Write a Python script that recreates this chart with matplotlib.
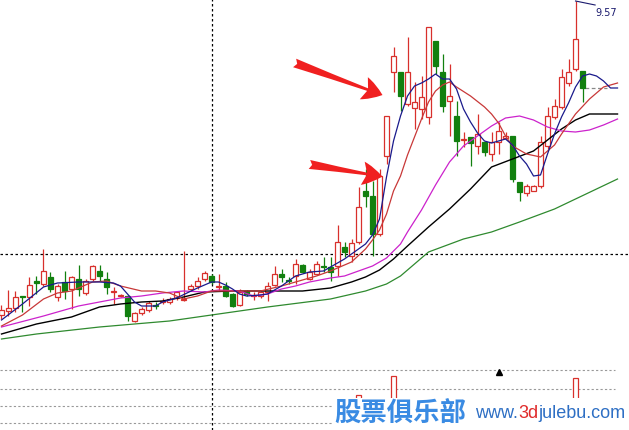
import matplotlib
matplotlib.use("Agg")
import matplotlib.pyplot as plt
from matplotlib.patches import FancyArrowPatch, Rectangle

###############################################################################
# Data (daily candles, prices)
###############################################################################
OPEN = [6.43, 6.47, 6.50, 6.62, 6.61, 6.77, 6.74, 6.81, 6.61, 6.76,
        6.69, 6.79, 6.65, 6.79, 6.87, 6.79, 6.66, 6.62, 6.62, 6.37,
        6.45, 6.48, 6.53, 6.56, 6.56, 6.60, 6.58, 6.69, 6.72, 6.79,
        6.82, 6.71, 6.72, 6.64, 6.53, 6.67, 6.62, 6.62, 6.66, 6.73,
        6.84, 6.78, 6.82, 6.93, 6.79, 6.84, 6.92, 6.91, 6.92, 7.11,
        7.02, 7.16, 7.67, 7.62, 7.24, 8.02, 8.86, 8.86, 8.54, 8.50,
        8.49, 8.41, 9.17, 8.86, 8.57, 8.42, 8.18, 8.21, 8.12, 8.16,
        8.04, 8.16, 8.20, 8.22, 7.76, 7.65, 7.67, 7.72, 8.12, 8.41,
        8.51, 8.75, 8.89, 8.87]
CLOSE = [6.48, 6.50, 6.61, 6.61, 6.73, 6.75, 6.87, 6.69, 6.72, 6.67,
         6.81, 6.69, 6.77, 6.92, 6.82, 6.71, 6.67, 6.63, 6.42, 6.45,
         6.49, 6.55, 6.52, 6.57, 6.59, 6.66, 6.59, 6.72, 6.77, 6.85,
         6.76, 6.72, 6.62, 6.52, 6.66, 6.64, 6.63, 6.66, 6.72, 6.84,
         6.81, 6.77, 6.94, 6.86, 6.86, 6.94, 6.91, 6.86, 7.16, 7.06,
         7.15, 7.51, 7.62, 7.24, 7.82, 8.42, 9.02, 8.62, 8.86, 8.56,
         8.61, 9.31, 8.92, 8.52, 8.62, 8.17, 8.19, 8.15, 8.24, 8.06,
         8.16, 8.27, 8.22, 7.79, 7.66, 7.72, 7.72, 8.16, 8.42, 8.52,
         8.81, 8.86, 9.19, 8.70]
HIGH = [6.53, 6.68, 6.67, 6.62, 6.81, 6.82, 7.09, 6.86, 6.74, 6.87,
        6.82, 6.93, 6.79, 6.93, 6.93, 6.86, 6.71, 6.64, 6.63, 6.46,
        6.51, 6.57, 6.56, 6.60, 6.61, 6.67, 7.07, 6.74, 6.81, 6.87,
        6.84, 6.84, 6.76, 6.65, 6.69, 6.68, 6.66, 6.67, 6.76, 6.92,
        6.89, 6.81, 6.99, 6.94, 6.89, 6.97, 7.01, 7.01, 7.33, 7.16,
        7.19, 7.71, 7.89, 7.77, 7.89, 8.42, 9.11, 8.86, 9.21, 8.76,
        8.82, 9.31, 9.17, 9.04, 8.94, 8.57, 8.26, 8.21, 8.44, 8.16,
        8.26, 8.36, 8.26, 8.22, 7.76, 7.74, 7.73, 8.22, 8.51, 8.59,
        8.89, 8.99, 9.57, 8.87]
LOW = [6.39, 6.42, 6.46, 6.46, 6.52, 6.64, 6.72, 6.66, 6.57, 6.59,
       6.49, 6.62, 6.63, 6.77, 6.77, 6.64, 6.54, 6.61, 6.37, 6.36,
       6.43, 6.46, 6.49, 6.54, 6.54, 6.58, 6.57, 6.67, 6.69, 6.77,
       6.74, 6.67, 6.61, 6.51, 6.52, 6.62, 6.58, 6.60, 6.57, 6.72,
       6.76, 6.74, 6.74, 6.85, 6.78, 6.83, 6.86, 6.77, 6.82, 7.01,
       6.96, 7.14, 7.51, 7.02, 7.22, 7.94, 8.66, 8.47, 8.52, 8.29,
       8.39, 8.34, 8.84, 8.46, 8.22, 8.02, 8.11, 7.92, 8.04, 8.02,
       7.97, 8.04, 8.19, 7.76, 7.57, 7.62, 7.67, 7.70, 8.09, 8.39,
       8.49, 8.72, 8.87, 8.56]

# moving averages, read at candle positions
MA5_X = [0, 3, 6, 8, 11, 14, 16, 17, 18, 19, 20, 22, 23, 25, 28, 30, 31, 32,
         33, 34, 35, 37, 38, 40, 41, 42, 44, 46, 47, 48, 49, 50, 51, 52, 53,
         54, 55, 56, 57, 58, 59, 60, 61, 62, 63, 64, 65, 66, 67, 68, 69, 70,
         71, 72, 73, 74, 75, 76, 77, 78, 79, 80, 81, 82, 83, 84, 85, 86, 87,
         88]
MA5 = [6.38, 6.54, 6.71, 6.75, 6.76, 6.76, 6.75, 6.72, 6.64, 6.56, 6.52,
       6.52, 6.56, 6.60, 6.70, 6.76, 6.76, 6.73, 6.69, 6.64, 6.62, 6.63,
       6.64, 6.72, 6.77, 6.82, 6.86, 6.87, 6.91, 6.95, 6.99, 7.04, 7.09,
       7.14, 7.23, 7.39, 7.81, 8.17, 8.42, 8.62, 8.72, 8.75, 8.79, 8.84,
       8.79, 8.79, 8.69, 8.49, 8.36, 8.25, 8.17, 8.15, 8.17, 8.19, 8.13,
       8.02, 7.94, 7.82, 7.83, 8.04, 8.24, 8.41, 8.55, 8.71, 8.82, 8.84,
       8.82, 8.77, 8.70, 8.70]
MA10_X = [0, 3, 6, 8, 10, 13, 15, 17, 20, 22, 24, 26, 28, 30, 33, 37, 40,
          42, 45, 47, 49, 50, 52, 53, 54, 55, 56, 57, 58, 59, 60, 61, 62,
          63, 64, 65, 67, 69, 70, 71, 72, 73, 75, 77, 79, 80, 82, 84, 86, 88]
MA10 = [6.32, 6.43, 6.59, 6.65, 6.67, 6.76, 6.77, 6.72, 6.67, 6.67, 6.65,
        6.59, 6.62, 6.67, 6.67, 6.67, 6.72, 6.76, 6.82, 6.87, 6.93, 6.96,
        7.09, 7.18, 7.28, 7.44, 7.67, 7.82, 8.03, 8.21, 8.39, 8.56, 8.67,
        8.73, 8.76, 8.71, 8.62, 8.51, 8.44, 8.35, 8.22, 8.12, 8.04, 8.01,
        8.13, 8.24, 8.44, 8.59, 8.71, 8.75]
MA20_X = [0, 6, 11, 17, 20, 23, 26, 29, 31, 34, 36, 38, 40, 42, 44, 47, 49,
          51, 53, 55, 56, 57, 58, 60, 62, 64, 66, 68, 70, 72, 74, 76, 78,
          80, 82, 84, 86, 88]
MA20 = [6.31, 6.42, 6.52, 6.60, 6.62, 6.65, 6.67, 6.66, 6.68, 6.67, 6.62,
        6.64, 6.69, 6.72, 6.76, 6.80, 6.82, 6.87, 6.92, 7.00, 7.07, 7.14,
        7.26, 7.48, 7.73, 7.96, 8.12, 8.22, 8.32, 8.40, 8.42, 8.38, 8.31,
        8.27, 8.26, 8.28, 8.33, 8.39]
MA30_X = [0, 5, 10, 14, 17, 20, 23, 26, 29, 33, 38, 43, 47, 50, 52, 54, 56,
          58, 61, 64, 67, 70, 73, 76, 78, 80, 82, 84, 86, 88]
MA30 = [6.24, 6.34, 6.41, 6.51, 6.54, 6.56, 6.57, 6.61, 6.66, 6.67, 6.67,
        6.67, 6.70, 6.76, 6.81, 6.88, 6.99, 7.12, 7.31, 7.49, 7.69, 7.91,
        7.99, 8.07, 8.18, 8.29, 8.38, 8.44, 8.44, 8.44]
MA120_X = [0, 5, 14, 24, 28, 38, 47, 52, 55, 57, 61, 66, 70, 74, 79, 88]
MA120 = [6.19, 6.24, 6.31, 6.37, 6.41, 6.51, 6.59, 6.67, 6.74, 6.82, 7.06,
         7.19, 7.26, 7.36, 7.49, 7.79]

# lower panel (indicator bars that peek out at the bottom)
SUB_X = [6, 15, 42, 51, 56, 58, 82]
SUB_V = [4, 1, 2, 40, 59, 35, 57]
SUB_UP = [True, False, True, True, True, True, True]
SUB_LEVELS = [60, 41, 24, 7]
SIGNAL_X, SIGNAL_V = 71, 58

# crosshair, annotations
CROSS_X, CROSS_Y = 30, 7.04
HIGH_LABEL = '9.57'
ARROWS = [((41.5, 8.96), (54.8, 8.62)), ((43.6, 7.94), (54.8, 7.81))]

###############################################################################
# Style
###############################################################################
RED, GREEN = '#D8302C', '#12800F'
(W, H, DPI) = (629, 431, 100)
XLIM = (-0.214, 89.64)

fig = plt.figure(figsize=(W / DPI, H / DPI), dpi=DPI)
fig.patch.set_facecolor('white')
ax = fig.add_axes([0, 79 / H, 1, 352 / H])
sub = fig.add_axes([0, 0, 1, 79 / H])
for a in (ax, sub):
    a.set_axis_off()
    a.set_xlim(*XLIM)
ax.set_ylim(6.07, 9.59)
sub.set_ylim(0, 79)

###############################################################################
# Candles
###############################################################################
xs = list(range(len(OPEN)))
for i in xs:
    o, c, h, l = OPEN[i], CLOSE[i], HIGH[i], LOW[i]
    up = c >= o
    col = RED if up else GREEN
    ax.vlines(i, l, h, color=col, lw=0.9, zorder=2)
    ax.bar(i, max(abs(c - o), 0.004), bottom=min(o, c), width=0.72,
           facecolor='white' if up else col, edgecolor=col, lw=0.9, zorder=3)

# moving averages
ax.plot(MA120_X, MA120, color='#2F8A2F', lw=0.9, zorder=4)
ax.plot(MA30_X, MA30, color='#000000', lw=1.0, zorder=4)
ax.plot(MA20_X, MA20, color='#CC22CC', lw=0.9, zorder=4)
ax.plot(MA10_X, MA10, color='#C83838', lw=0.9, zorder=4)
ax.plot(MA5_X, MA5, color='#1A1A8C', lw=0.9, zorder=5)

# last close line
ax.hlines(CLOSE[-1], len(CLOSE) - 0.7, len(CLOSE) + 2.5, color='#888888',
          lw=0.9, linestyles=(0, (3, 2)), zorder=2)

# high label
hi = HIGH.index(max(HIGH))
ax.plot([hi, hi + 2.8], [HIGH[hi], HIGH[hi] - 0.04], color='#1A1A6E', lw=0.8)
ax.text(hi + 2.9, HIGH[hi] - 0.11, HIGH_LABEL, color='#1A1A6E', fontsize=7,
        va='center', ha='left', family='DejaVu Sans')

# crosshair
dash = (0, (2, 2))
ax.axhline(CROSS_Y, color='black', lw=0.9, ls=dash, zorder=1)
ax.axvline(CROSS_X, color='black', lw=0.9, ls=dash, zorder=1)
sub.axvline(CROSS_X, color='black', lw=0.9, ls=dash, zorder=1)

# arrows
for (tail, tip) in ARROWS:
    ax.add_patch(FancyArrowPatch(
        tail, tip, arrowstyle='fancy,head_length=1.1,head_width=1.3,tail_width=0.5',
        mutation_scale=13, color='#F02020', lw=0, zorder=6
    ))

###############################################################################
# Lower panel
###############################################################################
for lv in SUB_LEVELS:
    sub.axhline(lv, xmax=0.978, color='#999999', lw=0.8, ls=dash, zorder=1)
for x, v, up in zip(SUB_X, SUB_V, SUB_UP):
    col = RED if up else GREEN
    sub.bar(x, v, bottom=-5, width=0.6, facecolor='white' if up else col,
            edgecolor=col, lw=0.9, zorder=2)
sub.plot(SIGNAL_X, SIGNAL_V, marker='^', color='black', ms=4, zorder=3)

###############################################################################
# Watermark (on a white plate)
###############################################################################
fig.patches.append(Rectangle((333 / W, 0), 1 - 333 / W, 32 / H,
                             transform=fig.transFigure, facecolor='white',
                             edgecolor='none', zorder=9))
fig.text(400 / W, 1 - 414 / H, '股票俱乐部', family=['Noto Sans CJK SC', 'DejaVu Sans'],
         fontsize=19, fontweight='heavy', color='#3A8BE3', ha='center',
         va='center', zorder=10)
parts = [('www.', '#2E6FC4'), ('3d', '#E02A2A'), ('julebu.com', '#2E6FC4')]
fig.canvas.draw()
rend = fig.canvas.get_renderer()
x0 = 475
for txt, col in parts:
    t = fig.text(x0 / W, 1 - 414 / H, txt, family='Liberation Sans',
                 fontsize=13, color=col, ha='left', va='center', zorder=10)
    x0 += t.get_window_extent(renderer=rend).width

fig.savefig('out.png', dpi=DPI, facecolor='white')
plt.close('all')
